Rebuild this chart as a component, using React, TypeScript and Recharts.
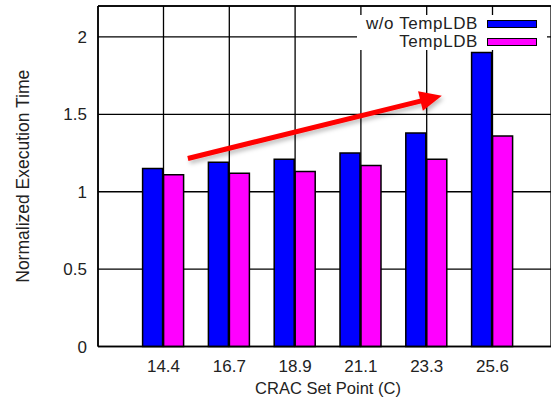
import { BarChart, Bar, XAxis, YAxis, CartesianGrid, ReferenceLine, Legend, Label } from 'recharts';

const FONT = '"Liberation Sans", Arial, Helvetica, sans-serif';
const TEXT = '#222';

// CRAC set points (C) on the x axis
const setPoints = ['14.4', '16.7', '18.9', '21.1', '23.3', '25.6'];
// normalized execution time, without and with TempLDB
const withoutTempLDB = [1.15, 1.19, 1.21, 1.25, 1.38, 1.9];
const withTempLDB = [1.11, 1.12, 1.13, 1.17, 1.21, 1.36];
const seriesNames = ['w/o TempLDB', 'TempLDB'];
const yTicks = [0, 0.5, 1, 1.5, 2];
// trend arrow, in (category index, value) units
const arrowTail = { x: 0.37, y: 1.215 };
const arrowHead = { x: 4.23, y: 1.62 };

const rows = setPoints.map((label, i) => ({
  label,
  idx: i,
  without: withoutTempLDB[i],
  with: withTempLDB[i],
}));

const X_PAD = { left: 32.6, right: 25.6 };

function Arrow(props: any) {
  const { x1, y1, x2, y2 } = props;
  const dx = x2 - x1;
  const dy = y2 - y1;
  const len = Math.sqrt(dx * dx + dy * dy);
  const ux = dx / len;
  const uy = dy / len;
  const headLen = 22;
  const headHalf = 10;
  const bx = x2 - ux * headLen;
  const by = y2 - uy * headLen;
  const head = [
    `${x2},${y2}`,
    `${bx - uy * headHalf},${by + ux * headHalf}`,
    `${bx + uy * headHalf},${by - ux * headHalf}`,
  ].join(' ');
  return (
    <g filter="url(#arrowShadow)">
      <defs>
        <filter id="arrowShadow" x="-10%" y="-50%" width="120%" height="200%">
          <feDropShadow dx="2" dy="3" stdDeviation="2" floodColor="#000" floodOpacity="0.25" />
        </filter>
      </defs>
      <line x1={x1} y1={y1} x2={bx + ux * 2} y2={by + uy * 2} stroke="#f00" strokeWidth={5} />
      <polygon points={head} fill="#f00" />
    </g>
  );
}

function KeyBox({ payload }: any) {
  // keep the key in series order regardless of how the payload is sorted
  const items = seriesNames
    .map((name) => (payload || []).find((p: any) => p.value === name))
    .filter(Boolean);
  return (
    <div style={{ fontFamily: FONT, fontSize: 17, letterSpacing: 0.6, color: TEXT, lineHeight: '16px' }}>
      {items.map((item: any) => (
        <div key={item.value} style={{ display: 'flex', justifyContent: 'flex-end', alignItems: 'center', height: 18, paddingRight: 10 }}>
          <span style={{ whiteSpace: 'nowrap' }}>{item.value}</span>
          <span style={{ display: 'inline-block', width: 48, height: 6, marginLeft: 9, background: item.color, border: '1.5px solid #000' }} />
        </div>
      ))}
    </div>
  );
}

export default function App() {
  return (
    <div style={{ position: 'absolute', left: 0, top: 0, width: 551, height: 402, overflow: 'hidden', background: '#fff', fontFamily: FONT }}>
      <BarChart
        width={551}
        height={402}
        data={rows}
        margin={{ top: 6, right: 0, bottom: 0, left: 0 }}
        barGap={1}
        barSize={20}
      >
        <CartesianGrid stroke="#000" strokeWidth={1.3} />
        <XAxis
          dataKey="label"
          height={55.5}
          interval={0}
          padding={X_PAD}
          tickSize={0}
          tickMargin={13}
          tickLine={false}
          axisLine={{ stroke: '#000', strokeWidth: 1.6 }}
          tick={{ fontSize: 17, fill: TEXT, fontFamily: FONT }}
        >
          <Label
            content={({ viewBox }: any) => (
              <text
                x={viewBox.x + viewBox.width / 2 + 3.5}
                y={viewBox.y + 47.5}
                textAnchor="middle"
                fontSize={16.5}
                fill={TEXT}
                fontFamily={FONT}
              >
                CRAC Set Point (C)
              </text>
            )}
          />
        </XAxis>
        <XAxis xAxisId="pos" dataKey="idx" type="number" domain={[-0.5, 5.5]} padding={X_PAD} allowDataOverflow hide />
        <YAxis
          width={98}
          domain={[0, 2.2]}
          ticks={yTicks}
          interval={0}
          tickSize={0}
          tickMargin={11}
          tickLine={false}
          axisLine={{ stroke: '#000', strokeWidth: 1.6 }}
          tick={{ fontSize: 17, fill: TEXT, fontFamily: FONT }}
        >
          <Label
            content={({ viewBox }: any) => {
              const cx = viewBox.x + 23;
              const cy = viewBox.y + viewBox.height / 2;
              return (
                <text
                  x={cx}
                  y={cy}
                  transform={`rotate(-90, ${cx}, ${cy})`}
                  textAnchor="middle"
                  dominantBaseline="central"
                  fontSize={17.5}
                  fill={TEXT}
                  fontFamily={FONT}
                >
                  Normalized Execution Time
                </text>
              );
            }}
          />
        </YAxis>
        <ReferenceLine y={2.2} stroke="#000" strokeWidth={1.6} ifOverflow="visible" />
        <Bar dataKey="without" name={seriesNames[0]} fill="#0000ff" stroke="#000" strokeWidth={1.5} isAnimationActive={false} />
        <Bar dataKey="with" name={seriesNames[1]} fill="#ff00ff" stroke="#000" strokeWidth={1.5} isAnimationActive={false} />
        <ReferenceLine
          xAxisId="pos"
          segment={[arrowTail, arrowHead]}
          shape={Arrow}
          ifOverflow="visible"
        />
        <Legend
          layout="vertical"
          align="center"
          verticalAlign="middle"
          content={KeyBox}
          wrapperStyle={{ left: 357, top: 15, width: 190, height: 35, background: '#fff' }}
        />
      </BarChart>
    </div>
  );
}
